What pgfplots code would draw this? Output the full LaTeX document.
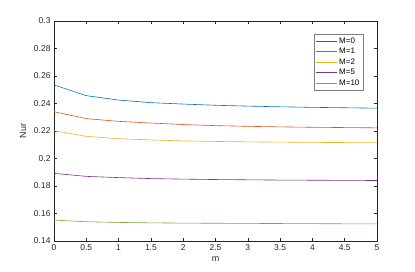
\documentclass[border=0pt]{standalone}
\usepackage{pgfplots}
\pgfplotsset{compat=1.18}
\usepackage{fontspec}
\setmainfont{Liberation Sans}
\definecolor{c1}{rgb}{0,0.447,0.741}
\definecolor{c2}{rgb}{0.85,0.325,0.098}
\definecolor{c3}{rgb}{0.929,0.694,0.125}
\definecolor{c4}{rgb}{0.494,0.184,0.556}
\definecolor{c5}{rgb}{0.466,0.674,0.188}
\definecolor{ax}{rgb}{0.15,0.15,0.15}
\begin{document}
\begin{tikzpicture}
\begin{axis}[
  scale only axis, width=323bp, height=220bp,
  xmin=0, xmax=5, ymin=0.14, ymax=0.3,
  xtick={0,0.5,...,5}, ytick={0.14,0.16,...,0.3},
  tick align=inside, tick pos=both,
  major tick length=3bp,
  axis line style={ax, line width=0.5pt},
  every tick/.style={ax, line width=0.5pt},
  tick label style={font=\fontsize{8.5}{10}\selectfont, text=ax},
  /pgf/number format/assume math mode=true,
  yticklabel style={/pgf/number format/fixed, /pgf/number format/precision=2},
  xticklabel style={/pgf/number format/fixed},
  xlabel={m}, ylabel={Nur},
  label style={font=\fontsize{9}{10}\selectfont, text=ax},
  xlabel style={yshift=1bp},
  ylabel style={yshift=1bp},
  legend style={at={(0.957,0.941)}, anchor=north east, draw=ax!60, line width=0.5pt,
    font=\fontsize{8}{9.5}\selectfont, inner sep=1.5pt, row sep=-0.5pt,
    legend cell align=left},
  legend image code/.code={\draw[#1] (0cm,0cm) -- (0.75cm,0cm);},
  every axis plot/.append style={line width=0.6pt},
]
\addplot[c1] coordinates {(0,0.2535) (0.5,0.2457) (1,0.2425) (1.5,0.2406) (2,0.2396) (2.5,0.2387) (3,0.2381) (3.5,0.2376) (4,0.2372) (4.5,0.2369) (5,0.2366)};
\addplot[c2] coordinates {(0,0.2340) (0.5,0.2290) (1,0.2270) (1.5,0.2258) (2,0.2247) (2.5,0.2239) (3,0.2234) (3.5,0.2230) (4,0.2227) (4.5,0.2225) (5,0.2223)};
\addplot[c3] coordinates {(0,0.2202) (0.5,0.2161) (1,0.2144) (1.5,0.2135) (2,0.2128) (2.5,0.2124) (3,0.2121) (3.5,0.2119) (4,0.2117) (4.5,0.2116) (5,0.2115)};
\addplot[c4] coordinates {(0,0.1892) (0.5,0.1870) (1,0.1861) (1.5,0.1854) (2,0.1850) (2.5,0.1847) (3,0.1845) (3.5,0.1843) (4,0.1842) (4.5,0.1841) (5,0.1840)};
\addplot[c5] coordinates {(0,0.1552) (0.5,0.1540) (1,0.1535) (1.5,0.1532) (2,0.1530) (2.5,0.1529) (3,0.1528) (3.5,0.1527) (4,0.1526) (4.5,0.1525) (5,0.1525)};
\legend{M=0,M=1,M=2,M=5,M=10}
\coordinate (bl) at (rel axis cs:0,0);
\coordinate (tr) at (rel axis cs:1,1);
\end{axis}
\path ([shift={(-54bp,-31bp)}]bl) rectangle ([shift={(38bp,21bp)}]tr);
\end{tikzpicture}
\end{document}
